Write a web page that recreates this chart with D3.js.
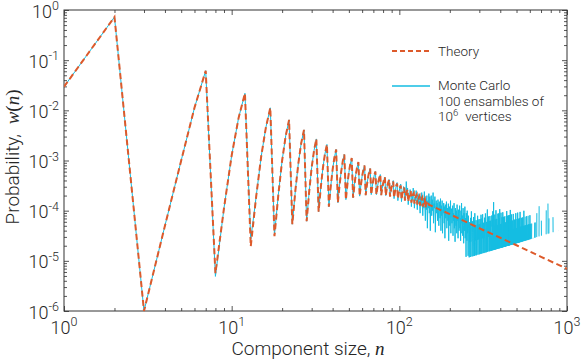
<!DOCTYPE html>
<html>
<head>
<meta charset="utf-8">
<title>Component size distribution</title>
<script src="https://d3js.org/d3.v7.min.js" charset="utf-8"></script>
<style>
    body { margin: 0; background: #fff; }
    text { font-family: Roboto, "Liberation Sans", Arial, sans-serif; font-weight: 300; fill: #262626; }
    .tick line { stroke: #555; }
    .math { font-family: "Liberation Serif", "DejaVu Serif", serif; font-style: italic; }
    .paren { font-family: "Liberation Serif", "DejaVu Serif", serif; }
</style>
</head>
<body>
<script>
// ---- data (log10 of probability) ----
// theory, n = 1 .. 147, one value per component size
var theoryLog = [
    -1.53, -0.14,
    -6.00, -4.30, -3.00, -1.95, -1.21,
    -5.25, -3.95, -2.90, -2.15, -1.66,
    -4.71, -3.72, -2.92, -2.34, -1.95,
    -4.51, -3.67, -3.00, -2.51, -2.19,
    -4.27, -3.59, -3.05, -2.65, -2.39,
    -4.21, -3.62, -3.14, -2.80, -2.57,
    -4.02, -3.54, -3.15, -2.87, -2.68,
    -3.92, -3.51, -3.18, -2.94, -2.78,
    -3.84, -3.49, -3.22, -3.01, -2.88,
    -3.78, -3.48, -3.24, -3.07, -2.95,
    -3.74, -3.48, -3.28, -3.13, -3.03,
    -3.71, -3.49, -3.31, -3.19, -3.10,
    -3.69, -3.50, -3.35, -3.23, -3.16,
    -3.68, -3.51, -3.38, -3.28, -3.22,
    -3.68, -3.54, -3.42, -3.34, -3.28,
    -3.69, -3.56, -3.46, -3.38, -3.33,
    -3.70, -3.58, -3.49, -3.43, -3.38,
    -3.72, -3.61, -3.53, -3.46, -3.42,
    -3.74, -3.64, -3.56, -3.50, -3.46,
    -3.76, -3.67, -3.59, -3.54, -3.50,
    -3.78, -3.69, -3.62, -3.58, -3.54,
    -3.80, -3.72, -3.65, -3.61, -3.58,
    -3.82, -3.74, -3.68, -3.64, -3.61,
    -3.84, -3.77, -3.71, -3.67, -3.65,
    -3.86, -3.79, -3.74, -3.70, -3.68,
    -3.88, -3.82, -3.77, -3.73, -3.71,
    -3.90, -3.84, -3.80, -3.76, -3.74,
    -3.92, -3.87, -3.83, -3.79, -3.77,
    -3.94, -3.89, -3.85, -3.82, -3.80
];
// theory beyond n = 147 (smooth power-law part)
var theoryTailN   = [150, 200, 300, 400, 500, 700, 1000];
var theoryTailLog = [-3.88, -4.07, -4.35, -4.54, -4.69, -4.92, -5.16];

// Monte Carlo: same as theory for small n, except these sizes
var mcOverrideN   = [8, 13, 18];
var mcOverrideLog = [-5.31, -4.57, -4.48];

// Monte Carlo, n = 88 .. 259
var mcMidStart = 88;
var mcMidLog = [
    -3.70, -3.63, -3.50, -3.48, -3.40, -3.76, -3.62, -3.58, -3.47, -3.44,
    -3.80, -3.64, -3.61, -3.50, -3.47, -3.82, -3.66, -3.65, -3.52, -3.55,
    -3.77, -3.75, -3.42, -3.64, -3.55, -3.88, -3.70, -3.72, -3.58, -3.66,
    -3.92, -3.70, -3.78, -3.55, -3.69, -3.95, -3.74, -3.80, -3.60, -3.76,
    -3.98, -3.68, -3.86, -3.66, -3.80, -4.05, -3.72, -3.90, -3.64, -3.85,
    -4.10, -3.75, -3.95, -3.62, -3.90, -4.20, -3.76, -3.98, -3.70, -4.35,
    -3.80, -3.95, -3.66, -4.05, -3.72, -4.40, -3.85, -3.70, -4.10, -3.78,
    -4.00, -3.64, -4.25, -3.86, -3.95, -3.72, -4.43, -3.90, -3.80, -4.05,
    -3.85, -4.20, -3.78, -4.00, -4.30, -3.82, -3.95, -4.15, -3.76, -4.40,
    -3.90, -4.10, -3.80, -4.45, -3.98, -4.05, -3.85, -4.25, -3.92, -4.55,
    -3.88, -4.15, -4.00, -3.82, -4.35, -4.05, -3.95, -4.20, -3.86, -4.60,
    -4.00, -3.92, -4.30, -4.10, -3.80, -4.45, -4.05, -3.96, -4.25, -4.12,
    -3.90, -4.50, -4.05, -4.20, -3.85, -4.35, -4.10, -4.62, -3.95, -4.15,
    -4.30, -4.00, -4.45, -3.88, -4.20, -4.10, -4.55, -3.98, -4.25, -4.40,
    -4.05, -3.90, -4.35, -4.15, -4.60, -4.00, -4.25, -3.85, -4.45, -4.20,
    -4.10, -4.50, -3.95, -4.30, -4.65, -4.05, -4.20, -4.40, -3.92, -4.55,
    -4.15, -4.35, -4.92, -4.05, -4.25, -4.60, -4.00, -4.45, -4.20, -4.90, -4.10, -4.35
];

// Monte Carlo, n = 260 .. 900: observed counts per size (one digit per n)
var mcTailStart = 260;
var mcUnit = 4.5e-8;      // probability of one observed component, per vertex
var mcTailCounts = [
    "3152416238412531462151732415123426143251",
    "2415341623153261342142511365123142571324",
    "2513241512431221534136214912132514132631",
    "1413312541251342161132315213144121531241",
    "1312412131321141352114123121412131411315",
    "1211312411213111214112112311311311241121",
    "1213112141211312101213121411212111311201",
    "1121311012111412110121130112111201131112",
    "1110211301211101210113110211101201112011",
    "0110200110030011002001200012000011030000",
    "1300000200001000200001400300000000100300",
    "0002100000100000004000000001000002000000",
    "0000100000013000000000000100004100002000",
    "1200000000000010000000000000020000000000",
    "0000021000000000000000003000000000000000",
    "00000000000000000010000000000110000000000"
].join("");

var xTicks = [1, 10, 100, 1000];
var yTicks = [1e-6, 1e-5, 1e-4, 1e-3, 1e-2, 1e-1, 1];

// ---- build point lists ----
var theory = theoryLog.map(function(v, i) { return {n: i + 1, w: Math.pow(10, v)}; });
theoryTailN.forEach(function(n, i) { theory.push({n: n, w: Math.pow(10, theoryTailLog[i])}); });

var mc = [];
for (var n = 1; n < mcMidStart; n++) {
    var k = mcOverrideN.indexOf(n);
    var v = k >= 0 ? mcOverrideLog[k] : theoryLog[n - 1];
    mc.push({n: n, w: Math.pow(10, v)});
}
mcMidLog.forEach(function(v, i) { mc.push({n: mcMidStart + i, w: Math.pow(10, v)}); });
mcTailCounts.split("").forEach(function(c, i) {
    var n = mcTailStart + i;
    mc.push({n: n, w: (+c) * mcUnit * n});
});

// ---- svg ----
var width = 581, height = 362;
var pL = 64, pR = 567, pT = 10, pB = 311;

var svg = d3.select("body").append("svg")
    .attr("width", width)
    .attr("height", height);

var x = d3.scaleLog().domain([1, 1000]).range([pL, pR]);
var y = d3.scaleLog().domain([1e-6, 1]).range([pB, pT]);

svg.append("clipPath").attr("id", "plot")
    .append("rect")
    .attr("x", pL).attr("y", pT - 1)
    .attr("width", pR - pL).attr("height", pB - pT + 2);

// minor / major ticks
var minorX = [], minorY = [];
[1, 10, 100].forEach(function(d) { for (var m = 2; m < 10; m++) minorX.push(d * m); });
[1e-6, 1e-5, 1e-4, 1e-3, 1e-2, 1e-1].forEach(function(d) { for (var m = 2; m < 10; m++) minorY.push(d * m); });

function ticks(axis, vals, size, tr) {
    var g = svg.append("g")
        .attr("transform", tr)
        .call(axis.tickValues(vals).tickSize(-size).tickSizeOuter(0).tickFormat(""));
    g.select(".domain").remove();
}
[[minorX, 3], [xTicks, 5]].forEach(function(p) {
    ticks(d3.axisBottom(x), p[0], p[1], "translate(0," + pB + ")");
    ticks(d3.axisTop(x), p[0], p[1], "translate(0," + pT + ")");
});
[[minorY, 3], [yTicks, 5]].forEach(function(p) {
    ticks(d3.axisLeft(y), p[0], p[1], "translate(" + pL + ",0)");
    ticks(d3.axisRight(y), p[0], p[1], "translate(" + pR + ",0)");
});

svg.append("rect")
    .attr("x", pL).attr("y", pT)
    .attr("width", pR - pL).attr("height", pB - pT)
    .attr("fill", "none").attr("stroke", "#333").attr("stroke-width", 1);

// tick labels
svg.selectAll(".xlab").data(xTicks).enter().append("text")
    .attr("x", function(d) { return x(d); })
    .attr("y", pB + 23)
    .attr("text-anchor", "middle")
    .style("font-size", "18px")
    .each(function(d) {
        var t = d3.select(this);
        t.append("tspan").text("10");
        t.append("tspan").attr("dy", -8).style("font-size", "12.5px").text(Math.round(Math.log10(d)));
    });

svg.selectAll(".ylab").data(yTicks).enter().append("text")
    .attr("x", pL - 5)
    .attr("y", function(d) { return y(d) + 7.5; })
    .attr("text-anchor", "end")
    .style("font-size", "18px")
    .each(function(d) {
        var t = d3.select(this);
        t.append("tspan").text("10");
        t.append("tspan").attr("dy", -7.5).style("font-size", "12.5px").text(Math.round(Math.log10(d)));
    });

// axis titles
var xt = svg.append("text")
    .attr("x", 308).attr("y", 355)
    .attr("text-anchor", "middle")
    .style("font-size", "19px");
xt.append("tspan").text("Component size, ");
xt.append("tspan").attr("class", "math").text("n");

var yt = svg.append("text")
    .attr("transform", "translate(19,157) rotate(-90)")
    .attr("text-anchor", "middle")
    .style("font-size", "19px");
yt.append("tspan").text("Probability,\u2002");
yt.append("tspan").attr("class", "math").text("w");
yt.append("tspan").attr("class", "paren").text("(");
yt.append("tspan").attr("class", "math").text("n");
yt.append("tspan").attr("class", "paren").text(")");

// lines
var line = d3.line()
    .defined(function(d) { return d.w > 0; })
    .x(function(d) { return x(d.n); })
    .y(function(d) { return y(d.w); });

var cyan = "#14bde2", orange = "#dd5a2b";

svg.append("path")
    .datum(mc)
    .attr("clip-path", "url(#plot)")
    .attr("d", line)
    .attr("fill", "none")
    .attr("stroke", cyan)
    .attr("stroke-width", 1);

svg.append("path")
    .datum(theory)
    .attr("clip-path", "url(#plot)")
    .attr("d", line)
    .attr("fill", "none")
    .attr("stroke", orange)
    .attr("stroke-width", 2)
    .attr("stroke-dasharray", "6,3.5");

// legend
var lg = svg.append("g");
lg.append("line").attr("x1", 392).attr("x2", 429).attr("y1", 51).attr("y2", 51)
    .attr("stroke", orange).attr("stroke-width", 2).attr("stroke-dasharray", "5,3");
lg.append("text").attr("x", 438).attr("y", 56).style("font-size", "13.5px").text("Theory");

lg.append("line").attr("x1", 392).attr("x2", 430).attr("y1", 86).attr("y2", 86)
    .attr("stroke", cyan).attr("stroke-width", 1.6);
lg.append("text").attr("x", 438).attr("y", 90).style("font-size", "13.5px").text("Monte Carlo");
lg.append("text").attr("x", 438).attr("y", 105.5).style("font-size", "13.5px").text("100 ensambles of");
var l3 = lg.append("text").attr("x", 438).attr("y", 121).style("font-size", "13.5px");
l3.append("tspan").text("10");
l3.append("tspan").attr("dy", -5).style("font-size", "9.5px").text("6");
l3.append("tspan").attr("dy", 5).text("\u2002vertices");
</script>
</body>
</html>
